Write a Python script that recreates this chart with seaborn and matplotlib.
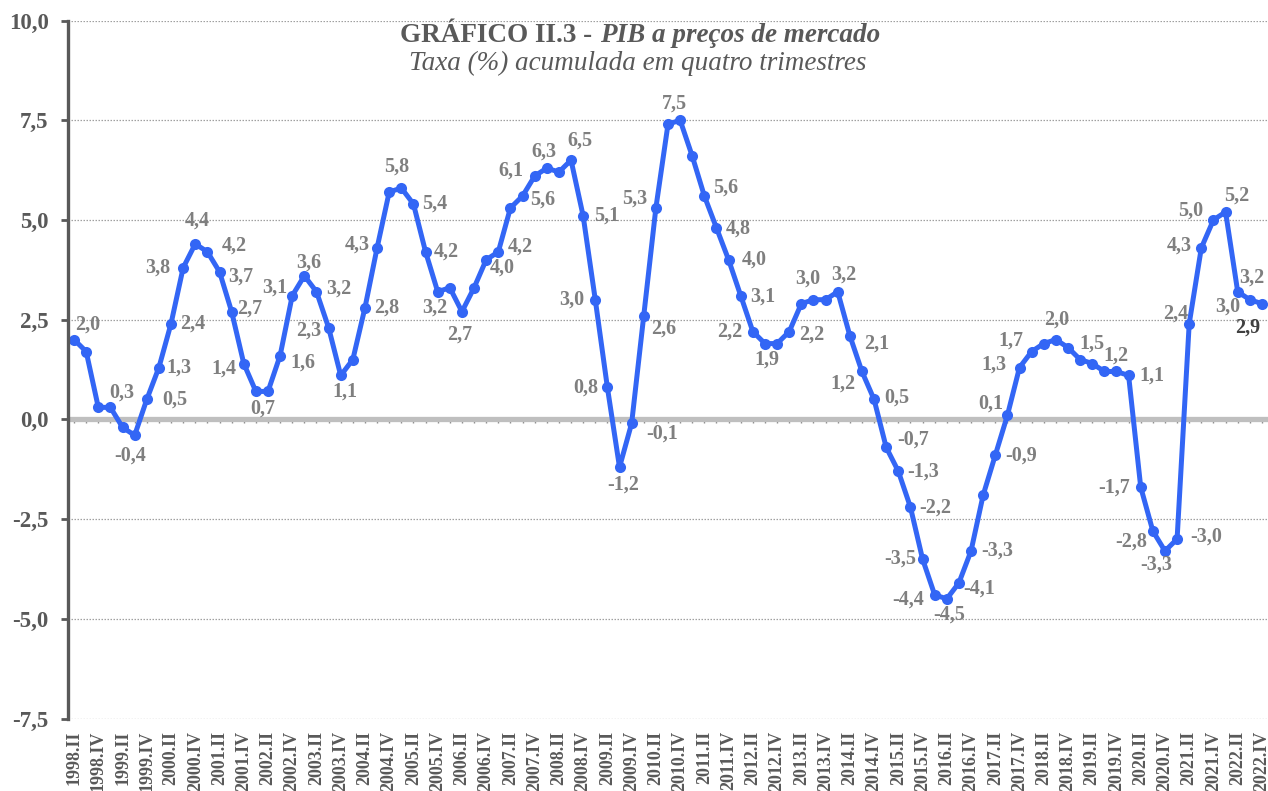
import matplotlib
matplotlib.use("Agg")
import matplotlib.pyplot as plt
import seaborn as sns
import pandas as pd

# ---------------- data ----------------
tick_labels = ["1998.II", "1998.IV", "1999.II", "1999.IV", "2000.II", "2000.IV",
               "2001.II", "2001.IV", "2002.II", "2002.IV", "2003.II", "2003.IV",
               "2004.II", "2004.IV", "2005.II", "2005.IV", "2006.II", "2006.IV",
               "2007.II", "2007.IV", "2008.II", "2008.IV", "2009.II", "2009.IV",
               "2010.II", "2010.IV", "2011.II", "2011.IV", "2012.II", "2012.IV",
               "2013.II", "2013.IV", "2014.II", "2014.IV", "2015.II", "2015.IV",
               "2016.II", "2016.IV", "2017.II", "2017.IV", "2018.II", "2018.IV",
               "2019.II", "2019.IV", "2020.II", "2020.IV", "2021.II", "2021.IV",
               "2022.II", "2022.IV"]

# quarterly values, 1998.II ... 2022.IV
taxa = [2.0, 1.7, 0.3, 0.3, -0.2, -0.4, 0.5, 1.3, 2.4, 3.8,
        4.4, 4.2, 3.7, 2.7, 1.4, 0.7, 0.7, 1.6, 3.1, 3.6,
        3.2, 2.3, 1.1, 1.5, 2.8, 4.3, 5.7, 5.8, 5.4, 4.2,
        3.2, 3.3, 2.7, 3.3, 4.0, 4.2, 5.3, 5.6, 6.1, 6.3,
        6.2, 6.5, 5.1, 3.0, 0.8, -1.2, -0.1, 2.6, 5.3, 7.4,
        7.5, 6.6, 5.6, 4.8, 4.0, 3.1, 2.2, 1.9, 1.9, 2.2,
        2.9, 3.0, 3.0, 3.2, 2.1, 1.2, 0.5, -0.7, -1.3, -2.2,
        -3.5, -4.4, -4.5, -4.1, -3.3, -1.9, -0.9, 0.1, 1.3, 1.7,
        1.9, 2.0, 1.8, 1.5, 1.4, 1.2, 1.2, 1.1, -1.7, -2.8,
        -3.3, -3.0, 2.4, 4.3, 5.0, 5.2, 3.2, 3.0, 2.9]

y_ticks = [-7.5, -5.0, -2.5, 0.0, 2.5, 5.0, 7.5, 10.0]

title_a = "GRÁFICO II.3 -"
title_b = "PIB a preços de mercado"
subtitle = "Taxa (%) acumulada em quatro trimestres"

# ---------------- style ----------------
# data-label placement: point index -> (dx, dy) screen pixels (dy downwards)
label_offsets = {
    0: (14, -15), 3: (11, -15), 5: (-5, 20), 6: (28, 0), 7: (20, 0), 8: (22, 0),
    9: (-25, 0), 10: (2, -23), 11: (27, -6), 12: (21, 5), 13: (18, -3),
    14: (-20, 5), 16: (-5, 17), 17: (23, 7), 18: (-17, -8), 19: (4, -13),
    20: (22, -3), 21: (-20, 3), 22: (4, 16), 24: (22, 0), 25: (-20, -3),
    27: (-5, -21), 28: (21, 0), 29: (21, 0), 30: (-3, 16), 32: (-2, 23),
    34: (16, 8), 35: (22, -5), 37: (20, 4), 38: (-24, -5), 39: (-3, -16),
    41: (9, -20), 42: (24, 0), 43: (-24, 0), 44: (-22, 0), 45: (4, 17),
    46: (30, 10), 47: (20, 13), 48: (-21, -9), 50: (-6, -17), 52: (21, -8),
    53: (22, 1), 54: (26, 0), 55: (22, 1), 56: (-23, 0), 57: (2, 16),
    59: (23, 3), 61: (-6, -21), 63: (6, -17), 64: (27, 8), 65: (-19, 12),
    66: (23, -2), 67: (27, -8), 68: (25, 0), 69: (25, 0), 70: (-22, 0),
    71: (-27, 5), 72: (2, 16), 73: (20, 6), 74: (26, 0), 76: (26, 0),
    77: (-17, -12), 78: (-26, -3), 79: (-21, -11), 81: (1, -20), 83: (12, -16),
    85: (12, -16), 87: (23, 0), 88: (-27, 0), 89: (-22, 11), 90: (-9, 14),
    91: (29, -2), 92: (-14, -10), 93: (-22, -2), 94: (-23, -9), 95: (11, -16),
    96: (14, -14), 97: (-22, 7), 98: (-14, 24),
}

BLUE = "#3366F5"
DARK = "#595959"
LABEL = "#7F7F7F"

sns.set_style("white")
plt.rcParams["font.family"] = ["Liberation Serif", "DejaVu Serif"]

W, H = 1268, 791
fig = plt.figure(figsize=(W / 100, H / 100), dpi=100)
ax = fig.add_axes([68 / W, 1 - 718.5 / H, 1 - 68 / W, (718.5 - 20.5) / H])

df = pd.DataFrame({"pos": list(range(len(taxa))), "taxa": taxa})

ax.axhline(0, color="#BFBFBF", lw=3.8, zorder=1.5)
sns.lineplot(data=df, x="pos", y="taxa", ax=ax, color=BLUE, linewidth=3.6,
             marker="o", markersize=8, markerfacecolor=BLUE,
             markeredgecolor=BLUE, markeredgewidth=0, zorder=3)

ax.set_xlim(-0.5, len(taxa) - 0.5)
ax.set_ylim(-7.5, 10.0)
ax.set_xlabel("")
ax.set_ylabel("")

ax.set_yticks(y_ticks)
ax.set_yticklabels([f"{v:.1f}".replace(".", ",") for v in y_ticks],
                   fontsize=16.5, fontweight="bold", color=DARK)
ax.set_xticks(list(range(0, len(taxa), 2)))
ax.set_xticklabels(tick_labels, rotation=90, fontsize=13, fontweight="bold",
                   color=DARK)
ax.tick_params(axis="y", length=5, width=2, color=DARK, pad=9, left=True)
ax.tick_params(axis="x", length=0, pad=9)

ax.yaxis.grid(True, linestyle=(0, (1.2, 1.2)), color="#A0A0A0", linewidth=0.9)
ax.xaxis.grid(False)
for s in ["top", "right", "bottom"]:
    ax.spines[s].set_visible(False)
ax.spines["left"].set_color(DARK)
ax.spines["left"].set_linewidth(2.4)
ax.spines["left"].set_zorder(4)

# small quarter ticks along the zero line
sec = ax.secondary_xaxis(7.5 / 17.5)
sec.set_xticks(list(range(len(taxa))))
sec.tick_params(length=3, width=1, color="#8C8C8C", labelbottom=False)
sec.spines["bottom"].set_visible(False)
sec.spines["top"].set_visible(False)

# data labels
for i, (dx, dy) in label_offsets.items():
    v = taxa[i]
    col = "#404040" if i == len(taxa) - 1 else LABEL
    ax.annotate(f"{v:.1f}".replace(".", ","), xy=(i, v), xytext=(dx, -dy),
                textcoords="offset pixels", ha="center", va="center",
                fontsize=14.5, fontweight="bold", color=col, zorder=5)

# titles
fig.text(592 / W, 1 - 42 / H, title_a, ha="right", va="baseline",
         fontsize=19.5, fontweight="bold", color=DARK)
fig.text(600 / W, 1 - 42 / H, title_b, ha="left", va="baseline",
         fontsize=19.5, fontweight="bold", fontstyle="italic", color=DARK)
fig.text(638 / W, 1 - 69.5 / H, subtitle, ha="center", va="baseline",
         fontsize=19.5, fontstyle="italic", color=DARK)

fig.savefig("out.png", dpi=100)
